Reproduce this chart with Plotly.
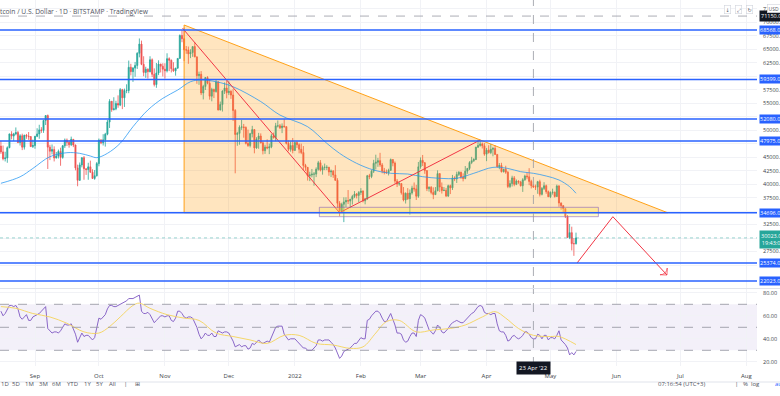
import pandas as pd
import plotly.graph_objects as go

# ---------------- data ----------------
dates = pd.date_range("2021-08-16", "2022-05-13", freq="D")

opens = [
    47040, 45970, 44700, 44850, 46750, 49300, 48900, 49300, 49550, 47700, 48950, 46850, 49050, 48900, 48800, 46950,
    47150, 48850, 49300, 50050, 49950, 51800, 52700, 46850, 46100, 46400, 44850, 45200, 46050, 44950, 47100, 48150, 47750, 47300, 48300, 47250, 43000, 40700, 43550, 44900, 42850, 42700, 43200, 42200, 41050, 41550,
    43800, 48150, 47650, 48200, 49250, 51500, 55350, 53800, 53950, 54950, 54650, 57500, 56000, 57350, 57350, 61650, 60850, 61500, 62000, 64250, 65950, 62200, 60700, 61300, 60850, 63050, 60350, 58450, 60600, 62250, 61850,
    61300, 61000, 63250, 62950, 61400, 61000, 61500, 63300, 67550, 66950, 64900, 64850, 64150, 64400, 65500, 63600, 60100, 60350, 56900, 58100, 59750, 58700, 56300, 57550, 57150, 58950, 53750, 54750, 57250, 57800,
    56950, 57200, 56500, 53650, 49200, 49400, 50550, 50600, 50500, 47550, 47150, 49350, 50100, 46700, 48350, 48900, 47650, 46200, 46850, 46700, 46900, 48950, 48600, 50800, 50800, 50450, 50750, 50650, 47550, 46450, 47150,
    46250, 47700, 47300, 46450, 45850, 43450, 43100, 41550, 41700, 41850, 41850, 42750, 43950, 42600, 43100, 43100, 43100, 42250, 42400, 41700, 40700, 36450, 35050, 36250, 36700, 36950, 36850, 37200, 37700, 38150, 37900,
    38450, 38700, 36900, 37300, 41550, 41400, 42400, 43850, 44050, 44350, 43550, 42400, 42200, 42100, 42550, 44550, 43900, 40550, 40000, 40100, 38400, 37050, 38300, 37300, 38350, 39250, 39100, 37750,
    43200, 44400, 43950, 42500, 39150, 39400, 38450, 38050, 38750, 41950, 39450, 38800, 38850, 37800, 39700, 39300, 41150, 40950, 41800, 42200, 41300, 41050, 42400, 42900, 44000, 44350, 44550, 46850, 47150, 47450, 47100,
    45550, 46300, 45850, 46450, 46600, 45500, 43200, 43450, 42300, 42750, 42200, 39550, 40100, 41150, 39950, 40550, 40400, 39700, 40800, 41500, 41350, 40500, 39700, 39450, 39450, 40450, 38100, 39200, 39700, 38600,
    37650, 38450, 38500, 37700, 39650, 36500, 36000, 35450, 34050, 30100, 31000, 28950, 28950,
]
highs = [
    47980, 47150, 46000, 47000, 49350, 49800, 49500, 50500, 49850, 49250, 49350, 49150, 49300, 49650, 48900, 48250,
    48950, 50350, 51000, 50550, 51900, 52800, 52900, 47300, 47350, 47000, 45950, 46400, 46750, 47250, 48450, 48450, 48150, 48800, 48350, 47300, 43600, 44000, 44950, 45200, 42900, 43950, 44350, 42750, 42600, 44100,
    48450, 48350, 49250, 49500, 51900, 55750, 55400, 56100, 55450, 56450, 57800, 57650, 57700, 58500, 62900, 62300, 61700, 62650, 64450, 67000, 66600, 63700, 61750, 61450, 63700, 63300, 61450, 62450, 62950, 62300, 62400,
    62400, 64250, 63500, 63100, 62600, 61550, 63300, 67750, 68550, 69000, 65600, 65500, 65000, 65500, 66300, 63600, 60850, 60950, 58400, 59850, 60000, 59300, 57850, 57700, 59350, 59100, 55300, 57400, 58850, 59200,
    59050, 57400, 57600, 53900, 49700, 50900, 51900, 51150, 50700, 50100, 49500, 50800, 50200, 48700, 49500, 49400, 47950, 47300, 48300, 47500, 49300, 49550, 51350, 51800, 51150, 51250, 52050, 50700, 48100, 47900, 48550,
    47900, 47950, 47550, 47500, 47050, 43750, 43150, 42300, 42800, 42250, 43100, 44300, 44450, 43450, 43800, 43500, 43200, 42700, 42600, 43500, 41100, 36850, 36550, 37550, 37550, 38900, 37250, 38000, 38700, 38350, 38700,
    39250, 38850, 37350, 41700, 41900, 42600, 44500, 45450, 44850, 45800, 43900, 43000, 42700, 42850, 44750, 44600, 44200, 40950, 40450, 40100, 39450, 38450, 39250, 39000, 39700, 40300, 39850, 44100,
    44950, 45400, 44100, 42550, 39600, 39650, 39400, 39450, 42550, 41950, 40300, 39450, 39300, 39900, 39900, 41700, 41450, 42300, 42400, 42300, 42000, 43350, 43000, 44250, 45050, 44800, 46900, 48200, 48100, 47700, 47600,
    46700, 47200, 47450, 46900, 47200, 45500, 43900, 43950, 42800, 43400, 42400, 40700, 41550, 41500, 40850, 40700, 40600, 41100, 41750, 42150, 42950, 40800, 39950, 39900, 40600, 40800, 39450, 40350, 39900, 38800,
    38650, 39150, 38600, 39900, 39800, 36600, 36100, 35500, 34250, 32600, 32100, 30000, 31000,
]
lows = [
    45600, 44400, 44200, 43950, 46650, 48300, 48000, 49050, 47600, 47150, 46300, 46400, 48400, 48200, 46900, 46700,
    46550, 48700, 48400, 49500, 49500, 50950, 42800, 44450, 45500, 44200, 44750, 44750, 43400, 44700, 46700, 47050, 46750, 47050, 46850, 42550, 39600, 40600, 43100, 40800, 41700, 40800, 42100, 40950, 40800, 41400,
    43300, 47400, 47150, 46950, 49050, 50400, 53400, 53650, 53700, 54150, 54450, 53900, 54300, 56850, 56850, 60150, 58950, 59900, 61350, 63500, 62050, 60000, 59700, 59550, 60700, 59850, 58100, 57850, 60200, 60700, 59950,
    59550, 60700, 60950, 60700, 60800, 60100, 61350, 63300, 66300, 62800, 64150, 62300, 63350, 63600, 63500, 58600, 58400, 56500, 55700, 57450, 58500, 55650, 55350, 55950, 56950, 53650, 53650, 53450, 56700, 55900,
    56500, 55800, 51700, 42000, 47100, 47300, 50050, 48600, 47350, 46900, 46800, 48650, 45700, 46550, 46550, 47550, 45500, 45600, 46450, 45550, 46650, 48450, 47950, 50500, 50200, 49450, 50450, 47350, 46100, 46000, 45700,
    46200, 46700, 45700, 45550, 42600, 42450, 40650, 40550, 41250, 39700, 41300, 42500, 42350, 41750, 42600, 42600, 41550, 41300, 41150, 40600, 35500, 34050, 34650, 32950, 35750, 36300, 35550, 36200, 37400, 37350, 36650,
    38000, 36600, 36250, 37050, 40900, 41100, 42050, 42700, 43200, 43200, 42000, 41800, 41900, 41600, 42450, 43300, 40100, 39450, 39700, 38050, 36800, 36400, 37050, 34350, 38050, 38600, 37050, 37450,
    42850, 43350, 41900, 38700, 38600, 38100, 37200, 38000, 38700, 38550, 38250, 38700, 37600, 37600, 38150, 38900, 40550, 40200, 41500, 40950, 40500, 40900, 41900, 42600, 43700, 44100, 44450, 46700, 46950, 46600, 45250,
    44250, 45650, 45550, 45150, 45400, 43100, 42750, 42150, 42150, 41900, 39250, 39250, 39550, 39600, 39800, 40050, 39550, 38550, 40600, 40900, 39800, 39200, 39300, 38900, 38200, 37700, 37900, 38900, 38200, 37600,
    37400, 38050, 37500, 37650, 35800, 35250, 34750, 33700, 30050, 29800, 27700, 26700, 28800,
]
closes = [
    45970, 44700, 44850, 46750, 49300, 48900, 49300, 49550, 47700, 48950, 46850, 49050, 48900, 48800, 46950, 47150,
    48850, 49300, 50050, 49950, 51800, 52700, 46850, 46100, 46400, 44850, 45200, 46050, 44950, 47100, 48150, 47750, 47300, 48300, 47250, 43000, 40700, 43550, 44900, 42850, 42700, 43200, 42200, 41050, 41550, 43800,
    48150, 47650, 48200, 49250, 51500, 55350, 53800, 53950, 54950, 54650, 57500, 56000, 57350, 57350, 61650, 60850, 61500, 62000, 64250, 65950, 62200, 60700, 61300, 60850, 63050, 60350, 58450, 60600, 62250, 61850, 61300,
    61000, 63250, 62950, 61400, 61000, 61500, 63300, 67550, 66950, 64900, 64850, 64150, 64400, 65500, 63600, 60100, 60350, 56900, 58100, 59750, 58700, 56300, 57550, 57150, 58950, 53750, 54750, 57250, 57800, 56950,
    57200, 56500, 53650, 49200, 49400, 50550, 50600, 50500, 47550, 47150, 49350, 50100, 46700, 48350, 48900, 47650, 46200, 46850, 46700, 46900, 48950, 48600, 50800, 50800, 50450, 50750, 50650, 47550, 46450, 47150, 46250,
    47700, 47300, 46450, 45850, 43450, 43100, 41550, 41700, 41850, 41850, 42750, 43950, 42600, 43100, 43100, 43100, 42250, 42400, 41700, 40700, 36450, 35050, 36250, 36700, 36950, 36850, 37200, 37700, 38150, 37900, 38450,
    38700, 36900, 37300, 41550, 41400, 42400, 43850, 44050, 44350, 43550, 42400, 42200, 42100, 42550, 44550, 43900, 40550, 40000, 40100, 38400, 37050, 38300, 37300, 38350, 39250, 39100, 37750, 43200,
    44400, 43950, 42500, 39150, 39400, 38450, 38050, 38750, 41950, 39450, 38800, 38850, 37800, 39700, 39300, 41150, 40950, 41800, 42200, 41300, 41050, 42400, 42900, 44000, 44350, 44550, 46850, 47150, 47450, 47100, 45550,
    46300, 45850, 46450, 46600, 45500, 43200, 43450, 42300, 42750, 42200, 39550, 40100, 41150, 39950, 40550, 40400, 39700, 40800, 41500, 41350, 40500, 39700, 39450, 39450, 40450, 38100, 39200, 39700, 38600, 37650,
    38450, 38500, 37700, 39650, 36500, 36000, 35450, 34050, 30100, 31000, 28950, 28950, 30023,
]
rsi_values = [
    64, 60, 62, 66, 69, 69, 68, 69, 66, 59, 57, 59, 61, 56, 56, 59,
    60, 61, 62, 64, 66, 68, 49, 47, 45, 46, 46, 45, 47, 50, 53, 52, 52, 53, 49, 44, 37, 41, 45, 42, 43, 43, 41, 39, 41, 50,
    58, 57, 59, 61, 66, 69, 69, 68, 68, 69, 70, 71, 72, 73, 75, 75, 75, 76, 77, 78, 64, 62, 62, 63, 61, 58, 54, 56, 58, 60, 60,
    59, 60, 60, 56, 55, 58, 64, 64, 62, 59, 58, 59, 59, 58, 54, 50, 44, 40, 42, 45, 43, 43, 45, 42, 42, 47, 46, 45, 46, 46,
    45, 42, 38, 33, 34, 35, 33, 34, 34, 31, 32, 36, 35, 37, 39, 37, 36, 37, 38, 37, 41, 46, 50, 51, 51, 51, 44, 41, 39, 40, 40,
    40, 38, 36, 34, 32, 32, 30, 30, 30, 32, 34, 39, 39, 38, 39, 39, 39, 37, 35, 32, 27, 23, 25, 29, 30, 31, 32, 34, 36, 36, 39,
    41, 40, 40, 56, 57, 60, 62, 64, 64, 62, 58, 55, 55, 58, 62, 57, 52, 45, 45, 44, 39, 37, 38, 42, 45, 45, 42, 56,
    61, 60, 58, 53, 48, 46, 44, 47, 52, 50, 46, 45, 47, 49, 52, 54, 55, 56, 55, 54, 54, 56, 58, 60, 62, 63, 66, 68, 69, 68, 63,
    62, 62, 61, 62, 62, 53, 47, 46, 46, 43, 38, 39, 42, 43, 41, 40, 41, 43, 46, 46, 44, 41, 40, 40, 44, 43, 40, 43, 43, 39,
    41, 41, 40, 43, 47, 39, 37, 35, 32, 26, 28, 26, 29,
]
assert all(len(a) == len(dates) for a in (opens, highs, lows, closes, rsi_values))

ma_dates = ["2021-08-16", "2021-08-25", "2021-08-31", "2021-09-08", "2021-09-16", "2021-09-22", "2021-09-27",
            "2021-09-30", "2021-10-05", "2021-10-11", "2021-10-17", "2021-10-24", "2021-10-31", "2021-11-07",
            "2021-11-13", "2021-11-18", "2021-11-25", "2021-12-03", "2021-12-16", "2021-12-25", "2022-01-07",
            "2022-01-16", "2022-01-22", "2022-01-30", "2022-02-07", "2022-02-15", "2022-02-23", "2022-03-02",
            "2022-03-10", "2022-03-18", "2022-03-26", "2022-04-04", "2022-04-11", "2022-04-17", "2022-04-23",
            "2022-04-29", "2022-05-05", "2022-05-10", "2022-05-13"]
ma_values = [40150, 41350, 42900, 45080, 45820, 45700, 45200, 44900, 45700, 47560, 50640, 53740, 55900, 57440,
             58980, 59300, 58980, 58050, 55300, 52800, 50640, 47560, 45700, 43850, 42610, 42000, 41870, 41370,
             41075, 41075, 42000, 43100, 42900, 42300, 42000, 41500, 40760, 39520, 38300]

rsi_ma_dates = ["2021-08-16", "2021-08-23", "2021-08-31", "2021-09-08", "2021-09-16", "2021-09-24", "2021-10-01",
                "2021-10-06", "2021-10-11", "2021-10-17", "2021-10-20", "2021-10-25", "2021-11-02", "2021-11-10",
                "2021-11-17", "2021-11-25", "2021-12-03", "2021-12-11", "2021-12-19", "2021-12-27", "2022-01-03",
                "2022-01-11", "2022-01-19", "2022-01-27", "2022-02-02", "2022-02-08", "2022-02-13", "2022-02-19",
                "2022-02-27", "2022-03-07", "2022-03-15", "2022-03-22", "2022-03-30", "2022-04-05", "2022-04-10",
                "2022-04-16", "2022-04-23", "2022-05-01", "2022-05-05", "2022-05-13"]
rsi_ma_values = [68, 66.5, 62, 59, 53.5, 46, 45, 50.6, 59, 69, 71, 66.5, 61, 58, 56, 45, 42, 39, 36, 43, 43, 36,
                 34.6, 31.7, 33, 45, 55, 56, 46, 47.7, 49, 52, 59, 63.6, 58, 49, 43, 42, 42, 35]

level_prices = [68568, 59399, 52080, 47975, 34696, 25374, 22023]
price_ticks = [25000, 27500, 30000, 32500, 35000, 37500, 40000, 42500, 45000, 47500, 50000, 52500, 55000,
               57500, 60000, 62500, 65000, 67500, 70000, 72500]
hidden_price_ticks = [25000, 30000, 35000, 47500, 52500, 60000]
rsi_ticks = [20, 40, 60, 80]
rsi_levels = [70, 50, 30]
month_ticks = ["2021-09-01", "2021-10-01", "2021-11-01", "2021-12-01", "2022-01-01", "2022-02-01",
               "2022-03-01", "2022-04-01", "2022-05-01", "2022-06-01", "2022-07-01", "2022-08-01"]
month_labels = ["Sep", "Oct", "Nov", "Dec", "2022", "Feb", "Mar", "Apr", "May", "Jun", "Jul", "Aug"]

triangle_dates = ["2021-11-10", "2021-11-10", "2022-06-25", "2021-11-10"]
triangle_prices = [69495, 34696, 34696, 69495]
red_path_dates = ["2021-11-09 07:00", "2022-01-22 00:00", "2022-03-29 00:00"]
red_path_prices = [68883, 34696, 48174]
zigzag_dates = ["2022-05-13 12:00", "2022-05-30 07:00", "2022-06-24 17:00"]
zigzag_prices = [25374, 33955, 23145]
box_dates = ["2022-01-12 12:00", "2022-05-23 12:00"]
box_prices = [33955, 35696]
last_price = 30023
countdown = "19:43:06"
cursor_date = "2022-04-23"
cursor_price = 71150

# ---------------- layout geometry / styles ----------------
FIG_W, FIG_H = 780, 396
PLOT_R = 757          # px, right edge of panes
PANE_B = 366          # px, bottom of RSI pane
FONT = "Open Sans"
UP, DOWN = "#26a69a", "#ef5350"
BLUE = "#2962ff"
x_range = ["2021-08-15 13:41", "2022-08-05 23:17"]


def px_x(px):
    return px / PLOT_R


def px_y(py):
    return (PANE_B - py) / PANE_B


fig = go.Figure()

# triangle drawing
fig.add_trace(go.Scatter(x=triangle_dates, y=triangle_prices, mode="lines", fill="toself",
                         fillcolor="rgba(255,152,0,0.25)", line=dict(color="rgba(255,152,0,0.9)", width=1),
                         xaxis="x", yaxis="y", hoverinfo="skip"))
# moving average
fig.add_trace(go.Scatter(x=ma_dates, y=ma_values, mode="lines",
                         line=dict(color="rgba(33,150,243,0.75)", width=1, shape="spline", smoothing=1.0),
                         xaxis="x", yaxis="y", hoverinfo="skip"))
# candles
fig.add_trace(go.Candlestick(x=dates, open=opens, high=highs, low=lows, close=closes,
                             increasing=dict(line=dict(color=UP, width=0.8), fillcolor=UP),
                             decreasing=dict(line=dict(color=DOWN, width=0.8), fillcolor=DOWN),
                             whiskerwidth=0, xaxis="x", yaxis="y", hoverinfo="skip"))
# red trend path
fig.add_trace(go.Scatter(x=red_path_dates, y=red_path_prices, mode="lines",
                         line=dict(color="#f23645", width=1), xaxis="x", yaxis="y", hoverinfo="skip"))
# projected zigzag with arrow
fig.add_trace(go.Scatter(x=zigzag_dates, y=zigzag_prices, mode="lines+markers",
                         line=dict(color="#f23645", width=1),
                         marker=dict(symbol="arrow-wide-open", size=[0, 0, 7], angleref="previous",
                                     color="#f23645", line=dict(color="#f23645", width=1)),
                         xaxis="x", yaxis="y", hoverinfo="skip"))
# RSI
fig.add_trace(go.Scatter(x=dates, y=rsi_values, mode="lines", line=dict(color="#7e57c2", width=0.9),
                         xaxis="x2", yaxis="y2", hoverinfo="skip"))
fig.add_trace(go.Scatter(x=rsi_ma_dates, y=rsi_ma_values, mode="lines",
                         line=dict(color="#f5d76a", width=1, shape="spline", smoothing=1.0),
                         xaxis="x2", yaxis="y2", hoverinfo="skip"))

shapes = []
# rectangle drawing
shapes.append(dict(type="rect", xref="x", yref="y", x0=box_dates[0], x1=box_dates[1],
                   y0=box_prices[0], y1=box_prices[1], fillcolor="rgba(255,235,59,0.28)",
                   line=dict(color="rgba(126,87,194,0.55)", width=1), layer="above"))
# RSI band and levels
shapes.append(dict(type="rect", xref="paper", yref="y2", x0=0, x1=1, y0=rsi_levels[2], y1=rsi_levels[0],
                   fillcolor="rgba(126,87,194,0.09)", line=dict(width=0), layer="below"))
for lv in rsi_levels:
    shapes.append(dict(type="line", xref="paper", yref="y2", x0=0, x1=1, y0=lv, y1=lv,
                       line=dict(color="#8f929c", width=0.8, dash="dash")))
# horizontal levels
for p in level_prices:
    shapes.append(dict(type="line", xref="paper", yref="y", x0=0, x1=1, y0=p, y1=p,
                       line=dict(color=BLUE, width=1.6)))
# current price line
shapes.append(dict(type="line", xref="paper", yref="y", x0=0, x1=1, y0=last_price, y1=last_price,
                   line=dict(color="rgba(38,166,154,0.45)", width=1, dash="dot")))
# crosshair
shapes.append(dict(type="line", xref="x", yref="paper", x0=cursor_date, x1=cursor_date, y0=0, y1=1,
                   line=dict(color="#9598a1", width=0.8, dash="dash")))
shapes.append(dict(type="line", xref="paper", yref="y", x0=0, x1=1, y0=cursor_price, y1=cursor_price,
                   line=dict(color="#9598a1", width=0.8, dash="dash")))
# pane separators
shapes.append(dict(type="line", xref="paper", yref="paper", x0=0, x1=FIG_W / PLOT_R,
                   y0=px_y(288.5), y1=px_y(288.5), line=dict(color="#e0e3eb", width=1)))
shapes.append(dict(type="line", xref="paper", yref="paper", x0=0, x1=FIG_W / PLOT_R,
                   y0=px_y(382), y1=px_y(382), line=dict(color="#e0e3eb", width=1)))

annotations = []
small = dict(family=FONT, size=5.5, color="white")
for p in level_prices:
    annotations.append(dict(xref="paper", x=1, xanchor="left", xshift=2, yref="y", y=p,
                            text=f"{p:.2f}", font=small, bgcolor=BLUE, borderpad=0, showarrow=False))
annotations.append(dict(xref="paper", x=1, xanchor="left", xshift=2, yref="y", y=last_price, yshift=-2,
                        text=f"{last_price:.2f}<br>{countdown}", font=small, bgcolor=UP, borderpad=1,
                        showarrow=False))
annotations.append(dict(xref="paper", x=1, xanchor="left", xshift=2, yref="y", y=cursor_price,
                        text=f"{cursor_price:.2f}", font=small, bgcolor="#131722", borderpad=1,
                        showarrow=False))
annotations.append(dict(xref="x2", x=cursor_date, yref="paper", y=px_y(375),
                        text=pd.Timestamp(cursor_date).strftime("%-d %b '%y"),
                        font=dict(family=FONT, size=6, color="white"), bgcolor="#131722", borderpad=2,
                        showarrow=False))
# title
annotations.append(dict(xref="paper", x=px_x(-8), xanchor="left", yref="paper", y=px_y(5.5),
                        text="Bitcoin / U.S. Dollar · 1D · BITSTAMP · TradingView",
                        font=dict(family=FONT, size=6.7, color="#50535e"), showarrow=False))
# top-right buttons
for cx, glyph in [(731, "↓"), (741.5, "⤢"), (753, "↻")]:
    annotations.append(dict(xref="paper", x=px_x(cx), yref="paper", y=px_y(5), text=glyph,
                            font=dict(family="DejaVu Sans", size=5, color="#50535e"), bgcolor="white",
                            bordercolor="#d1d4dc", borderwidth=0.6, borderpad=1, showarrow=False))
annotations.append(dict(xref="paper", x=px_x(767), xanchor="left", yref="paper", y=px_y(4.5),
                        text="USD ▾", font=dict(family=FONT, size=5, color="#50535e"), bgcolor="white",
                        bordercolor="#d1d4dc", borderwidth=0.6, borderpad=1, showarrow=False))
# bottom toolbar
for cx, label in [(-1, "1D"), (10, "5D"), (23, "1M"), (37, "3M"), (50, "6M"), (65, "YTD"), (82, "1Y"),
                  (94, "5Y"), (107, "All"), (122, "|"), (133, "⊞"), (707, "07:16:54 (UTC+3)"), (740, "|"),
                  (749.5, "%"), (762, "log")]:
    annotations.append(dict(xref="paper", x=px_x(cx), yref="paper", y=px_y(389.5), text=label,
                            font=dict(family=FONT, size=6, color="#50535e"), showarrow=False))
annotations.append(dict(xref="paper", x=px_x(773), xanchor="left", yref="paper", y=px_y(389.5), text="auto",
                        font=dict(family=FONT, size=6, color=BLUE), showarrow=False))

axis_font = dict(family=FONT, size=5.5, color="#3c3f48")
grid = "#f1f2f6"
fig.update_layout(
    width=FIG_W, height=FIG_H,
    margin=dict(l=0, r=FIG_W - PLOT_R, t=0, b=FIG_H - PANE_B, autoexpand=False),
    paper_bgcolor="white", plot_bgcolor="white",
    showlegend=False, hovermode=False, dragmode=False,
    font=dict(family=FONT),
    xaxis=dict(domain=[0, 1], range=x_range, anchor="y", tickvals=month_ticks, showticklabels=False,
               showgrid=True, gridcolor=grid, gridwidth=1, zeroline=False, ticks="", automargin=False,
               rangeslider=dict(visible=False), fixedrange=True, showline=False),
    xaxis2=dict(domain=[0, 1], range=x_range, anchor="y2", tickvals=month_ticks, ticktext=month_labels,
                showgrid=True, gridcolor=grid, gridwidth=1, zeroline=False, ticks="", automargin=False,
                tickfont=dict(family=FONT, size=6, color="#3c3f48"), ticklabelstandoff=5,
                fixedrange=True, showline=False),
    yaxis=dict(domain=[px_y(288), 1], range=[20735, 74130], side="right", anchor="x",
               tickvals=price_ticks,
               ticktext=["" if v in hidden_price_ticks else f"{v:.2f}" for v in price_ticks],
               tickfont=axis_font, showgrid=True, gridcolor=grid, zeroline=False, ticks="",
               automargin=False, ticklabelstandoff=5, fixedrange=True, showline=False),
    yaxis2=dict(domain=[0, px_y(289)], range=[16.35, 83.3], side="right", anchor="x2",
                tickvals=rsi_ticks, ticktext=[f"{v:.2f}" for v in rsi_ticks],
                tickfont=axis_font, showgrid=True, gridcolor=grid, zeroline=False, ticks="",
                automargin=False, ticklabelstandoff=5, fixedrange=True, showline=False),
    shapes=shapes,
    annotations=annotations,
)

# the page body has a default 8px margin; remove it so the figure sits at the window origin
fig.write_html("out.html", config=dict(displayModeBar=False, staticPlot=True),
               post_script="document.body.style.margin='0px';document.body.style.overflow='hidden';")
